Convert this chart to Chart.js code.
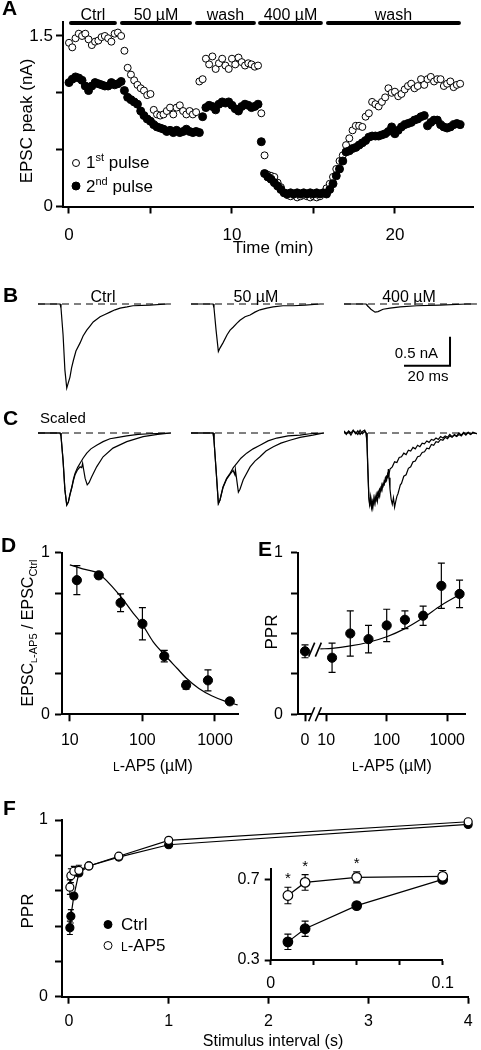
<!DOCTYPE html>
<html><head><meta charset="utf-8">
<script src="https://cdn.jsdelivr.net/npm/chart.js@4.4.1/dist/chart.umd.min.js"></script>
<style>
html,body{margin:0;padding:0;background:#fff;}
body{width:481px;height:1050px;position:relative;overflow:hidden;font-family:"Liberation Sans",Arial,sans-serif;}
canvas{position:absolute;}
.lbl{position:absolute;font-family:"Liberation Sans",Arial,sans-serif;color:#000;white-space:nowrap;line-height:1;}
.panel{font-weight:bold;font-size:21px;}
</style></head>
<body>
<canvas id="cA" width="481" height="260" style="left:0;top:0"></canvas>
<canvas id="cB0" width="133" height="120" style="left:38px;top:280px"></canvas>
<canvas id="cB1" width="133" height="120" style="left:191px;top:280px"></canvas>
<canvas id="cB2" width="133" height="120" style="left:344px;top:280px"></canvas>
<canvas id="cC0" width="133" height="100" style="left:38px;top:420px"></canvas>
<canvas id="cC1" width="133" height="100" style="left:191px;top:420px"></canvas>
<canvas id="cC2" width="133" height="100" style="left:344px;top:420px"></canvas>
<canvas id="cD" width="245" height="250" style="left:0;top:530px"></canvas>
<canvas id="cE" width="241" height="250" style="left:240px;top:530px"></canvas>
<canvas id="cF" width="481" height="255" style="left:0;top:795px"></canvas>
<canvas id="cFi" width="240" height="150" style="left:225px;top:845px"></canvas>
<div class="lbl panel" style="left:2px;top:-3px">A</div>
<div class="lbl panel" style="left:3px;top:284px">B</div>
<div class="lbl panel" style="left:3px;top:407px">C</div>
<div class="lbl" style="left:40px;top:410px;font-size:15px">Scaled</div>
<div class="lbl panel" style="left:1px;top:534px">D</div>
<div class="lbl panel" style="left:258px;top:538px">E</div>
<div class="lbl panel" style="left:3px;top:797px">F</div>
<script>
const FONT = '"Liberation Sans", Arial, Helvetica, sans-serif';
Chart.defaults.font.family = FONT;
Chart.defaults.color = '#000';

// ================= DATA =================
// Panel A: EPSC peak amplitude time course
const timeMin = [0,0.2,0.4,0.6,0.8,1,1.2,1.4,1.6,1.8,2,2.2,2.4,2.6,2.8,3,3.2,3.4,3.6,3.8,4,4.2,4.4,4.6,4.8,5,5.2,5.4,5.6,5.8,6,6.2,6.4,6.6,6.8,7,7.2,7.4,7.6,7.8,8,8.2,8.4,8.6,8.8,9,9.2,9.4,9.6,9.8,10,10.2,10.4,10.6,10.8,11,11.2,11.4,11.6,11.8,12,12.2,12.4,12.6,12.8,13,13.2,13.4,13.6,13.8,14,14.2,14.4,14.6,14.8,15,15.2,15.4,15.6,15.8,16,16.2,16.4,16.6,16.8,17,17.2,17.4,17.6,17.8,18,18.2,18.4,18.6,18.8,19,19.2,19.4,19.6,19.8,20,20.2,20.4,20.6,20.8,21,21.2,21.4,21.6,21.8,22,22.2,22.4,22.6,22.8,23,23.2,23.4,23.6,23.8,24];
const pulse1 = [1.44,1.40,1.48,1.52,1.50,1.52,1.47,1.42,1.45,1.46,1.49,1.50,1.48,1.45,1.52,1.53,1.50,1.37,1.22,1.16,1.11,1.07,1.04,1.02,0.98,0.99,0.85,0.81,0.80,0.81,0.84,0.87,0.81,0.87,0.89,0.84,0.81,0.84,0.81,0.83,1.10,1.12,1.30,1.25,1.32,1.21,1.26,1.30,1.24,1.21,1.30,1.25,1.31,1.27,1.24,1.26,1.25,1.23,1.24,0.82,0.45,0.28,0.27,0.26,0.21,0.17,0.12,0.10,0.09,0.10,0.08,0.09,0.10,0.09,0.08,0.09,0.08,0.09,0.12,0.16,0.20,0.26,0.33,0.40,0.45,0.54,0.60,0.67,0.71,0.71,0.70,0.79,0.82,0.92,0.90,0.88,0.92,0.96,1.04,1.00,1.01,0.97,0.99,1.03,1.06,1.08,1.04,1.06,1.12,1.07,1.12,1.14,1.10,1.12,1.12,1.06,1.08,1.10,1.05,1.07,1.08];
const pulse2 = [1.09,1.12,1.14,1.13,1.11,1.06,1.02,1.06,1.09,1.08,1.07,1.06,1.06,1.09,1.07,1.08,1.10,1.02,0.96,0.94,0.92,0.90,0.84,0.80,0.77,0.75,0.72,0.70,0.69,0.68,0.66,0.67,0.65,0.67,0.65,0.66,0.68,0.66,0.65,0.66,0.65,0.79,0.87,0.89,0.88,0.85,0.90,0.92,0.91,0.92,0.89,0.86,0.84,0.88,0.90,0.89,0.87,0.88,0.90,0.57,0.29,0.26,0.24,0.21,0.18,0.15,0.12,0.11,0.12,0.11,0.12,0.11,0.12,0.11,0.12,0.11,0.12,0.11,0.12,0.11,0.15,0.20,0.27,0.33,0.40,0.48,0.49,0.51,0.52,0.54,0.56,0.58,0.61,0.62,0.62,0.62,0.63,0.64,0.66,0.70,0.64,0.67,0.70,0.72,0.73,0.74,0.76,0.77,0.79,0.80,0.71,0.74,0.76,0.76,0.72,0.70,0.69,0.70,0.72,0.73,0.72];
const condLabels = ['Ctrl','50 µM','wash','400 µM','wash'];
const condStart = [0,3.13,7.73,11.6,15.77];
const condEnd = [2.94,7.55,11.47,15.58,24.05];
const aXTicks = [0,5,10,15,20], aXLabels = ['0','','10','','20'];
const aYTicks = [0,0.5,1,1.5], aYLabels = ['0','','','1.5'];

// Panel B: raw EPSC traces (time in ms, current in nA)
const bCtrlT = [0,9.6,10.0,10.9,11.7,12.5,13.0,13.9,14.6,15.4,16.5,18.3,19.6,21.2,22.6,24.0,27.0,29.1,31.3,33.5,35.7,38.7,41.3,48.7,56.1,57.8];
const bCtrlI = [0,0,-0.07,-0.53,-1.14,-1.45,-1.38,-1.26,-1.10,-0.97,-0.81,-0.67,-0.55,-0.45,-0.38,-0.31,-0.22,-0.18,-0.14,-0.10,-0.07,-0.05,-0.03,-0.02,0,0];
const b50T = [0,9.6,10.0,10.9,11.9,12.6,13.9,15.7,17.0,18.3,20.0,21.3,23.5,25.7,27.8,30.0,33.0,35.7,40.0,44.4,49.6,56.1,57.8];
const b50I = [0,0,-0.07,-0.45,-0.82,-0.76,-0.67,-0.53,-0.45,-0.40,-0.33,-0.28,-0.22,-0.19,-0.14,-0.10,-0.07,-0.05,-0.03,-0.03,-0.02,0,0];
const b400T = [0,9.6,10.0,11.7,13.5,14.8,17.0,20.0,24.4,31.7,41.7,53.5,57.8];
const b400I = [0,0,-0.02,-0.09,-0.14,-0.13,-0.09,-0.07,-0.05,-0.03,-0.02,0,0];
const bLabels = ['Ctrl','50 µM','400 µM'];
const scaleBarMs = 20, scaleBarNA = 0.5;

// Panel C: scaled traces (normalised amplitude), single and paired pulse
const cCtrl1T = [0,9.6,10.0,10.9,11.7,12.5,13.2,13.9,14.7,15.4,16.1,17.2,18.3,19.6,21.2,23.0,25.5,28.3,31.3,34.8,38.6,43.5,48.7,57.8];
const cCtrl1V = [0,0,-0.04,-0.38,-0.79,-1.0,-0.96,-0.85,-0.75,-0.64,-0.56,-0.48,-0.42,-0.35,-0.28,-0.22,-0.17,-0.12,-0.08,-0.06,-0.04,-0.02,-0.01,0];
const cCtrl2T = [0,9.6,10.0,10.9,11.7,12.5,13.2,13.9,14.7,15.4,16.1,17.2,18.3,19.0,19.4,19.8,20.5,21.4,22.2,23.3,25.5,28.3,32.6,38.6,45.7,52.0,57.8];
const cCtrl2V = [0,0,-0.04,-0.38,-0.79,-1.0,-0.96,-0.86,-0.76,-0.66,-0.58,-0.51,-0.47,-0.48,-0.42,-0.50,-0.63,-0.72,-0.69,-0.61,-0.47,-0.33,-0.21,-0.12,-0.05,-0.02,0];
const c501T = [0,9.6,10.0,10.9,11.9,12.6,13.9,15.5,17.0,18.4,19.9,21.7,24.2,27.0,30.0,33.5,37.3,42.2,47.4,51.7,57.8];
const c501V = [0,0,-0.10,-0.51,-0.98,-0.93,-0.75,-0.63,-0.56,-0.48,-0.42,-0.35,-0.28,-0.22,-0.17,-0.11,-0.07,-0.04,-0.03,-0.01,0];
const c502T = [0,9.6,10.0,10.9,11.9,12.6,13.9,15.5,17.0,18.3,19.1,19.3,20.6,21.3,22.7,25.7,27.8,30.0,32.6,35.8,39.1,43.0,47.4,53.0,57.8];
const c502V = [0,0,-0.10,-0.51,-0.98,-0.93,-0.76,-0.64,-0.57,-0.52,-0.58,-0.51,-0.82,-0.78,-0.65,-0.47,-0.39,-0.33,-0.25,-0.19,-0.14,-0.10,-0.06,-0.03,0];
const c4001T = [0,1,2,3,4,5,6,7,8,9,9.6,10.0,10.4,10.8,11.2,11.6,12.0,12.5,13.0,13.5,14.0,14.5,15.0,15.5,16.0,16.5,17.0,17.5,18.0,18.5,19.0,19.5,20,21,22,23,24,25,26,27,28,29,30,31,32,33,34,35,36,37,38,39,40,41,42,43,44,45,46,47,48,49,50,51,52,53,54,55,56,57.8];
const c4001V = [0.02,-0.02,0.03,0.00,0.04,-0.01,0.03,-0.02,0.02,0.04,0.00,-0.15,-0.55,-0.90,-1.02,-0.88,-0.97,-1.05,-0.90,-0.98,-0.86,-0.95,-0.82,-0.88,-0.76,-0.80,-0.70,-0.72,-0.62,-0.66,-0.56,-0.58,-0.50,-0.47,-0.40,-0.41,-0.34,-0.33,-0.28,-0.30,-0.24,-0.25,-0.20,-0.22,-0.17,-0.19,-0.14,-0.15,-0.11,-0.13,-0.09,-0.10,-0.07,-0.09,-0.05,-0.07,-0.04,-0.06,-0.02,-0.05,-0.02,-0.04,0.00,-0.03,0.01,-0.02,0.01,-0.02,0.00,-0.01];
const c4002T = [0,1,2,3,4,5,6,7,8,9,9.6,10.0,10.4,10.8,11.2,11.6,12.0,12.5,13.0,13.5,14.0,14.5,15.0,15.5,16.0,16.5,17.0,17.5,18.0,18.5,19.0,19.3,19.6,20.0,20.5,21.0,21.5,22.0,22.5,23.0,23.5,24.0,24.5,25,26,27,28,29,30,31,32,33,34,35,36,37,38,39,40,41,42,43,44,45,46,47,48,49,50,51,52,53,54,55,56,57.8];
const c4002V = [0.03,-0.01,0.02,-0.03,0.03,0.01,-0.02,0.04,-0.01,0.02,0.00,-0.12,-0.50,-0.88,-1.00,-0.92,-1.04,-0.94,-0.99,-0.88,-0.93,-0.83,-0.88,-0.78,-0.81,-0.71,-0.74,-0.66,-0.68,-0.60,-0.62,-0.50,-0.62,-0.78,-0.92,-0.99,-0.90,-1.03,-0.95,-0.88,-0.84,-0.78,-0.72,-0.70,-0.60,-0.58,-0.49,-0.47,-0.40,-0.39,-0.33,-0.32,-0.27,-0.26,-0.21,-0.22,-0.16,-0.17,-0.12,-0.13,-0.09,-0.10,-0.06,-0.08,-0.04,-0.06,-0.03,-0.05,-0.02,-0.04,0.00,-0.03,0.01,-0.02,0.01,-0.01];

// Panel D: concentration-response
const dConc = [12.5,25,50,100,200,400,800,1600];
const dMean = [0.83,0.86,0.69,0.56,0.36,0.18,0.21,0.08];
const dSem  = [0.09,0.02,0.055,0.10,0.035,0.025,0.065,0.01];
const dFitConc = [10,15,25,50,75,100,140,200,300,400,600,900,1400,2050];
const dFitVal  = [0.925,0.90,0.87,0.73,0.625,0.555,0.45,0.37,0.285,0.225,0.16,0.115,0.08,0.058];
const dXTicks = [10,100,1000], dXLabels = ['10','100','1000'];
const dYTicks = [0,0.25,0.5,0.75,1], dYLabels = ['0','','','','1'];

// Panel E: PPR vs concentration
const eCtrlMean = 0.39, eCtrlSem = 0.04;
const eConc = [12.5,25,50,100,200,400,800,1600];
const eMean = [0.35,0.50,0.465,0.55,0.585,0.61,0.795,0.745];
const eSem  = [0.09,0.14,0.085,0.10,0.055,0.06,0.14,0.085];
const eFitConc = [8,12.5,25,50,100,200,400,800,1600,1900];
const eFitVal  = [0.405,0.408,0.423,0.446,0.48,0.53,0.597,0.675,0.74,0.755];
const eXTickLabels = ['0','10','100','1000'];

// Panel F: PPR vs stimulus interval
const fInterval = [0.01,0.02,0.05,0.1,0.2,0.5,1,4];
const fCtrl    = [0.39,0.455,0.57,0.70,0.74,0.79,0.86,0.975];
const fCtrlSem = [0.038,0.038,0.012,0.01,0.01,0.01,0.01,0.008];
const fAp5     = [0.62,0.685,0.71,0.715,0.74,0.795,0.885,0.99];
const fAp5Sem  = [0.041,0.039,0.027,0.029,0.012,0.01,0.01,0.008];
const fXTicks = [0,1,2,3,4], fXLabels = ['0','1','2','3','4'];
const fYTicks = [0,0.2,0.4,0.6,0.8,1], fYLabels = ['0','','','','','1'];
const insetMaxInterval = 0.1;
const insetXTicks = [0,0.025,0.05,0.075,0.1], insetXLabels = ['0','','','','0.1'];
const insetYTicks = [0.3,0.7], insetYLabels = ['0.3','0.7'];
const starIntervals = [0.01,0.02,0.05];

// ================= HELPERS =================
const pts = (xs, ys) => xs.map((x, i) => ({ x: x, y: ys[i] }));

const textPlugin = {
  id: 'texts',
  afterDraw(chart, args, opts) {
    const items = typeof opts.items === 'function' ? opts.items(chart) : (opts.items || []);
    const ctx = chart.ctx;
    items.forEach(it => {
      ctx.save();
      ctx.fillStyle = '#000'; ctx.strokeStyle = '#000';
      if (it.marker) {
        ctx.beginPath(); ctx.arc(it.x, it.y, it.r, 0, Math.PI * 2);
        ctx.fillStyle = it.marker === 'filled' ? '#000' : '#fff';
        ctx.fill(); ctx.lineWidth = it.lw || 1; ctx.stroke();
        ctx.restore(); return;
      }
      ctx.translate(it.x, it.y);
      if (it.rot) ctx.rotate(it.rot * Math.PI / 180);
      const parts = it.parts || [{ t: it.text, size: it.size || 16 }];
      let total = 0;
      parts.forEach(p => { ctx.font = p.size + 'px ' + FONT; p.w = ctx.measureText(p.t).width; total += p.w; });
      let cx = it.align === 'left' ? 0 : (it.align === 'right' ? -total : -total / 2);
      ctx.textBaseline = 'alphabetic'; ctx.textAlign = 'left';
      parts.forEach(p => { ctx.font = p.size + 'px ' + FONT; ctx.fillText(p.t, cx, p.dy || 0); cx += p.w; });
      ctx.restore();
    });
  }
};

const errorBarPlugin = {
  id: 'errbars',
  beforeDatasetsDraw(chart) {
    const ctx = chart.ctx;
    chart.data.datasets.forEach((ds, di) => {
      if (!ds.errors) return;
      const meta = chart.getDatasetMeta(di);
      const xs = chart.scales[meta.xAxisID], ys = chart.scales[meta.yAxisID];
      ctx.save(); ctx.strokeStyle = '#000'; ctx.lineWidth = ds.errWidth || 1.2;
      ds.data.forEach((p, i) => {
        const e = ds.errors[i]; if (!e) return;
        const x = xs.getPixelForValue(p.x);
        const y1 = ys.getPixelForValue(p.y + e), y2 = ys.getPixelForValue(p.y - e);
        const c = ds.capHalf || 3;
        ctx.beginPath();
        ctx.moveTo(x, y1); ctx.lineTo(x, y2);
        ctx.moveTo(x - c, y1); ctx.lineTo(x + c, y1);
        ctx.moveTo(x - c, y2); ctx.lineTo(x + c, y2);
        ctx.stroke();
      });
      ctx.restore();
    });
  }
};
Chart.register(textPlugin, errorBarPlugin);

function axisOpts(o) {
  return {
    type: o.type || 'linear', min: o.min, max: o.max, bounds: 'data',
    afterFit: s => { if (o.horizontal) s.height = o.fit; else s.width = o.fit; },
    afterBuildTicks: s => { s.ticks = o.ticks.map(v => ({ value: v })); },
    ticks: { autoSkip: false, maxRotation: 0, minRotation: 0, padding: o.pad, color: '#000',
      font: { size: o.fontSize, family: FONT, lineHeight: 1.2 },
      callback: (v, i) => o.labels[i] },
    grid: { display: true, drawOnChartArea: false, drawTicks: true, tickLength: o.tickLen || 7,
      tickWidth: 2, tickColor: '#000', color: '#000' },
    border: { display: true, color: '#000', width: 2 }
  };
}
const baseOpts = (padding, scales, texts) => ({
  responsive: false, animation: false, devicePixelRatio: 1,
  layout: { padding: padding, autoPadding: false },
  scales: scales,
  plugins: { legend: { display: false }, tooltip: { enabled: false }, texts: { items: texts || [] } }
});

// ================= PANEL A =================
const condPlugin = {
  id: 'cond',
  afterDraw(chart) {
    const { ctx, chartArea, scales: { x } } = chart;
    ctx.save(); ctx.lineWidth = 4; ctx.lineCap = 'round'; ctx.strokeStyle = '#000'; ctx.fillStyle = '#000';
    ctx.font = '16px ' + FONT; ctx.textAlign = 'center'; ctx.textBaseline = 'alphabetic';
    condStart.forEach((s, i) => {
      const x1 = x.getPixelForValue(s) + 2, x2 = x.getPixelForValue(condEnd[i]) - 2;
      const y = chartArea.top + 1;
      ctx.beginPath(); ctx.moveTo(x1, y); ctx.lineTo(x2, y); ctx.stroke();
      ctx.fillText(condLabels[i], (x1 + x2) / 2, 20);
    });
    ctx.restore();
  }
};
new Chart(document.getElementById('cA'), {
  type: 'scatter',
  data: { datasets: [
    { label: '2nd pulse', data: pts(timeMin, pulse2), pointRadius: 4, pointBackgroundColor: '#000', pointBorderColor: '#000', pointBorderWidth: 1, clip: false },
    { label: '1st pulse', data: pts(timeMin, pulse1), pointRadius: 3.5, pointBackgroundColor: '#fff', pointBorderColor: '#000', pointBorderWidth: 1, clip: false }
  ] },
  options: baseOpts({ top: 22, right: 8, left: 0, bottom: 0 }, {
    x: axisOpts({ min: -0.368, max: 24.79, ticks: aXTicks, labels: aXLabels, fontSize: 17, pad: 12, fit: 53.5, horizontal: true }),
    y: axisOpts({ min: 0, max: 1.623, ticks: aYTicks, labels: aYLabels, fontSize: 17, pad: 3, fit: 63 })
  }, [
    { text: 'EPSC peak (nA)', x: 32, y: 121, rot: -90, size: 17 },
    { text: 'Time (min)', x: 273, y: 253, size: 17 },
    { marker: 'open', x: 76, y: 163, r: 3.5 },
    { parts: [{ t: '1', size: 17 }, { t: 'st', size: 11, dy: -7 }, { t: ' pulse', size: 17 }], x: 86, y: 168, align: 'left' },
    { marker: 'filled', x: 76, y: 186, r: 4 },
    { parts: [{ t: '2', size: 17 }, { t: 'nd', size: 11, dy: -7 }, { t: ' pulse', size: 17 }], x: 86, y: 192, align: 'left' }
  ]),
  plugins: [condPlugin]
});

// ================= PANELS B & C (traces) =================
function traceChart(id, datasets, yMin, yMax, texts) {
  return new Chart(document.getElementById(id), {
    type: 'scatter',
    data: { datasets: datasets },
    options: baseOpts(0, {
      x: { type: 'linear', display: false, min: 0, max: 57.83 },
      y: { type: 'linear', display: false, min: yMin, max: yMax }
    }, texts)
  });
}
const traceDs = (t, v) => ({ data: pts(t, v), showLine: true, pointRadius: 0, borderColor: '#000', borderWidth: 1.2, tension: 0 });
const dashDs = () => ({ data: [{ x: 0, y: 0 }, { x: 56.5, y: 0 }], showLine: true, pointRadius: 0, borderColor: '#000', borderWidth: 1, borderDash: [7, 5] });

const bMin = -1.655, bMax = 0.414;
traceChart('cB0', [traceDs(bCtrlT, bCtrlI), dashDs()], bMin, bMax, [{ text: bLabels[0], x: 65, y: 22, size: 16 }]);
traceChart('cB1', [traceDs(b50T, b50I), dashDs()], bMin, bMax, [{ text: bLabels[1], x: 65, y: 22, size: 16 }]);
const scaleCorner = { ms: 46.1, nA: -1.064 };
traceChart('cB2', [
  traceDs(b400T, b400I), dashDs(),
  { data: [{ x: scaleCorner.ms - scaleBarMs, y: scaleCorner.nA }, { x: scaleCorner.ms, y: scaleCorner.nA }, { x: scaleCorner.ms, y: scaleCorner.nA + scaleBarNA }],
    showLine: true, pointRadius: 0, borderColor: '#000', borderWidth: 2 }
], bMin, bMax, [
  { text: bLabels[2], x: 65, y: 22, size: 16 },
  { text: scaleBarNA + ' nA', x: 94, y: 78, size: 15, align: 'right' },
  { text: scaleBarMs + ' ms', x: 84, y: 101, size: 15 }
]);

const cMin = -1.208, cMax = 0.1806;
traceChart('cC0', [traceDs(cCtrl1T, cCtrl1V), traceDs(cCtrl2T, cCtrl2V), dashDs()], cMin, cMax);
traceChart('cC1', [traceDs(c501T, c501V), traceDs(c502T, c502V), dashDs()], cMin, cMax);
traceChart('cC2', [traceDs(c4001T, c4001V), traceDs(c4002T, c4002V), dashDs()], cMin, cMax);

// ================= PANEL D =================
new Chart(document.getElementById('cD'), {
  type: 'scatter',
  data: { datasets: [
    { data: pts(dConc, dMean), errors: dSem, capHalf: 3.5, pointRadius: 4.6, pointBackgroundColor: '#000', pointBorderColor: '#000', clip: false },
    { data: pts(dFitConc, dFitVal), showLine: true, pointRadius: 0, borderColor: '#000', borderWidth: 1.2, cubicInterpolationMode: 'monotone', clip: false }
  ] },
  options: baseOpts({ top: 22.7, right: 7, left: 0, bottom: 0 }, {
    x: axisOpts({ type: 'logarithmic', min: 7.8, max: 2075, ticks: dXTicks, labels: dXLabels, fontSize: 16, pad: 10, fit: 65.7, horizontal: true }),
    y: axisOpts({ min: 0, max: 1, ticks: dYTicks, labels: dYLabels, fontSize: 16, pad: 5, fit: 62 })
  }, [
    { parts: [{ t: 'L', size: 12 }, { t: '-AP5 (µM)', size: 16 }], x: 153, y: 241 },
    { parts: [{ t: 'EPSC', size: 16 }, { t: 'L', size: 9, dy: 4 }, { t: '-AP5', size: 11, dy: 4 }, { t: ' / EPSC', size: 16 }, { t: 'Ctrl', size: 11, dy: 4 }], x: 33, y: 103, rot: -90 }
  ])
});

// ================= PANEL E =================
const eZeroPos = 0.65;          // axis position of the "0" (control) category, log10 units
const eBreak = [0.76, 0.87];    // axis-break marks, log10 units
const eLog = eConc.map(c => Math.log10(c));
const eBreakPlugin = {
  id: 'ebreak',
  afterDraw(chart) {
    const { ctx, scales: { x, y } } = chart;
    const yb = y.getPixelForValue(0);
    const xa = x.getPixelForValue(eBreak[0]), xb = x.getPixelForValue(eBreak[1]);
    ctx.save();
    ctx.fillStyle = '#fff'; ctx.fillRect(xa, yb - 2, xb - xa, 4);
    ctx.strokeStyle = '#000'; ctx.lineWidth = 1.6;
    const yd = y.getPixelForValue(eCtrlMean + 0.01);
    [xa, xb].forEach(xx => {
      ctx.beginPath(); ctx.moveTo(xx - 3, yb + 7); ctx.lineTo(xx + 3, yb - 7); ctx.stroke();
      ctx.beginPath(); ctx.moveTo(xx - 3, yd + 7); ctx.lineTo(xx + 3, yd - 7); ctx.stroke();
    });
    ctx.restore();
  }
};
new Chart(document.getElementById('cE'), {
  type: 'scatter',
  data: { datasets: [
    { data: [{ x: eZeroPos, y: eCtrlMean }].concat(pts(eLog, eMean)), errors: [eCtrlSem].concat(eSem), capHalf: 3.5,
      pointRadius: 4.6, pointBackgroundColor: '#000', pointBorderColor: '#000', clip: false },
    { data: pts(eFitConc.map(c => Math.log10(c)), eFitVal), showLine: true, pointRadius: 0, borderColor: '#000', borderWidth: 1.2, cubicInterpolationMode: 'monotone', clip: false }
  ] },
  options: baseOpts({ top: 22.7, right: 16, left: 0, bottom: 0 }, {
    x: axisOpts({ min: 0.534, max: 3.294, ticks: [eZeroPos, 1, 2, 3], labels: eXTickLabels, fontSize: 16, pad: 10, fit: 65.7, horizontal: true }),
    y: axisOpts({ min: 0, max: 1, ticks: dYTicks, labels: dYLabels, fontSize: 16, pad: 8, fit: 58 })
  }, [
    { text: 'PPR', x: 37, y: 102, rot: -90, size: 17 },
    { parts: [{ t: 'L', size: 12 }, { t: '-AP5 (µM)', size: 16 }], x: 152, y: 241 }
  ]),
  plugins: [eBreakPlugin]
});

// ================= PANEL F =================
new Chart(document.getElementById('cF'), {
  type: 'scatter',
  data: { datasets: [
    { label: 'L-AP5', data: pts(fInterval, fAp5), errors: fAp5Sem, capHalf: 3, showLine: true, borderColor: '#000', borderWidth: 1.2,
      pointRadius: 4, pointBackgroundColor: '#fff', pointBorderColor: '#000', pointBorderWidth: 1.2, clip: false },
    { label: 'Ctrl', data: pts(fInterval, fCtrl), errors: fCtrlSem, capHalf: 3, showLine: true, borderColor: '#000', borderWidth: 1.2,
      pointRadius: 4, pointBackgroundColor: '#000', pointBorderColor: '#000', pointBorderWidth: 1.2, clip: false }
  ] },
  options: baseOpts({ top: 25, right: 5, left: 0, bottom: 0 }, {
    x: axisOpts({ min: -0.0688, max: 4, ticks: fXTicks, labels: fXLabels, fontSize: 16, pad: 8.4, fit: 53.3, horizontal: true }),
    y: axisOpts({ min: 0, max: 1, ticks: fYTicks, labels: fYLabels, fontSize: 16, pad: 7, fit: 62 })
  }, [
    { text: 'Stimulus interval (s)', x: 273, y: 251, size: 16 },
    { text: 'PPR', x: 33, y: 116, rot: -90, size: 17 },
    { marker: 'filled', x: 108, y: 129.5, r: 4 },
    { text: 'Ctrl', x: 121, y: 135, size: 17, align: 'left' },
    { marker: 'open', x: 108, y: 150.5, r: 4 },
    { parts: [{ t: 'L', size: 12 }, { t: '-AP5', size: 17 }], x: 121, y: 156, align: 'left' }
  ])
});

// inset
const insetIdx = fInterval.map((v, i) => i).filter(i => fInterval[i] <= insetMaxInterval);
const pick = (arr) => insetIdx.map(i => arr[i]);
const starPlugin = {
  id: 'stars',
  afterDraw(chart) {
    const { ctx, scales: { x, y } } = chart;
    ctx.save(); ctx.fillStyle = '#000'; ctx.font = '15px ' + FONT; ctx.textAlign = 'center'; ctx.textBaseline = 'alphabetic';
    starIntervals.forEach(s => {
      const i = fInterval.indexOf(s);
      ctx.fillText('*', x.getPixelForValue(s), y.getPixelForValue(fAp5[i] + fAp5Sem[i]) - 4);
    });
    ctx.restore();
  }
};
new Chart(document.getElementById('cFi'), {
  type: 'scatter',
  data: { datasets: [
    { data: pts(pick(fInterval), pick(fAp5)), errors: pick(fAp5Sem), capHalf: 3.5, showLine: true, borderColor: '#000', borderWidth: 1.2,
      pointRadius: 4.8, pointBackgroundColor: '#fff', pointBorderColor: '#000', pointBorderWidth: 1.2, clip: false },
    { data: pts(pick(fInterval), pick(fCtrl)), errors: pick(fCtrlSem), capHalf: 3.5, showLine: true, borderColor: '#000', borderWidth: 1.2,
      pointRadius: 4.8, pointBackgroundColor: '#000', pointBorderColor: '#000', pointBorderWidth: 1.2, clip: false }
  ] },
  options: baseOpts({ top: 24.3, right: 22.3, left: 0, bottom: 0 }, {
    x: axisOpts({ min: 0, max: 0.1, ticks: insetXTicks, labels: insetXLabels, fontSize: 16, pad: 9, tickLen: 5, fit: 35, horizontal: true }),
    y: axisOpts({ min: 0.3, max: 0.75, ticks: insetYTicks, labels: insetYLabels, fontSize: 16, pad: 5, tickLen: 6, fit: 45.7 })
  }),
  plugins: [starPlugin]
});
</script>
</body></html>
